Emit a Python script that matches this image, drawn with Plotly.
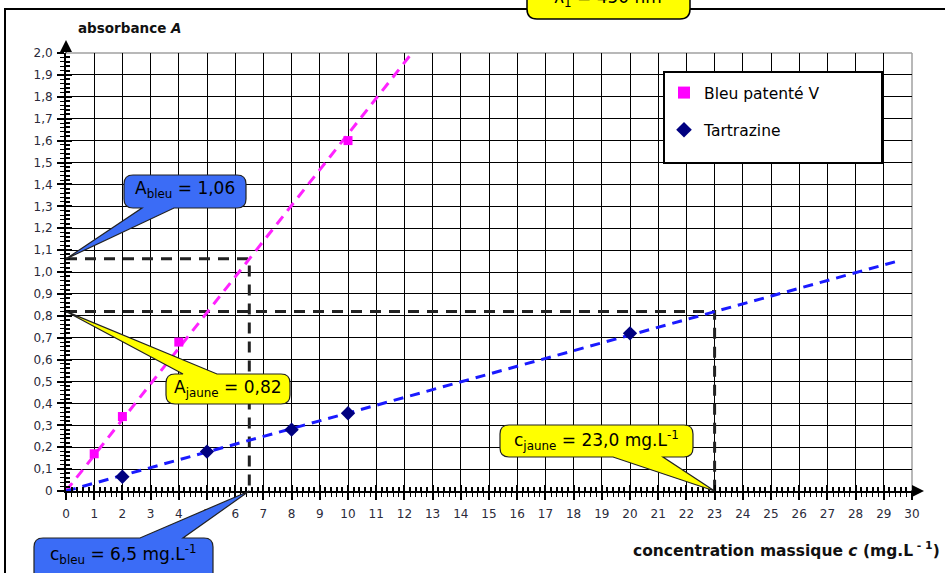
import plotly.graph_objects as go

# ---------------- data ----------------
bleu_c = [1, 2, 4, 10]
bleu_A = [0.17, 0.34, 0.68, 1.60]
jaune_c = [2, 5, 8, 10, 20]
jaune_A = [0.065, 0.18, 0.28, 0.355, 0.72]

bleu_slope = 0.163        # trend line of Bleu patenté V (A = k.c)
jaune_slope = 0.0356      # trend line of Tartrazine
jaune_line_cmax = 29.4    # extent of the tartrazine trend line

A_bleu, c_bleu = 1.06, 6.5
A_jaune, c_jaune = 0.82, 23.0

x_ticks = list(range(0, 31))
x_ticktext = [str(v) for v in x_ticks]
y_ticks = [round(i * 0.1, 1) for i in range(0, 21)]
y_ticktext = ["0"] + [f"{v:.1f}".replace(".", ",") for v in y_ticks[1:]]

# ---------------- layout geometry ----------------
W, H = 945, 573
L, R, T, B = 66, 33, 53, 82
PW, PH = W - L - R, H - T - B
XR, YR = (0, 30), (0, 2.0)

def px(x):  # pixel -> paper x
    return (x - L) / PW

def py(y):  # pixel -> paper y
    return (H - B - y) / PH

def dx(v):  # data -> paper x
    return (v - XR[0]) / (XR[1] - XR[0])

def dy(v):  # data -> paper y
    return (v - YR[0]) / (YR[1] - YR[0])

def callout(x0, y0, x1, y1, side, b0, b1, tip, r=9):
    """speech bubble path in paper coords; box in pixels, tip in paper."""
    P = lambda x, y: f"{px(x):.5f},{py(y):.5f}"
    tx, ty = tip
    tipS = f"{tx:.5f},{ty:.5f}"
    s = f"M{P(x0 + r, y0)}"
    if side == "top":
        s += f" L{P(b0, y0)} L{tipS} L{P(b1, y0)}"
    s += f" L{P(x1 - r, y0)} Q{P(x1, y0)} {P(x1, y0 + r)}"
    s += f" L{P(x1, y1 - r)} Q{P(x1, y1)} {P(x1 - r, y1)}"
    if side == "bottom":
        s += f" L{P(b1, y1)} L{tipS} L{P(b0, y1)}"
    s += f" L{P(x0 + r, y1)} Q{P(x0, y1)} {P(x0, y1 - r)}"
    s += f" L{P(x0, y0 + r)} Q{P(x0, y0)} {P(x0 + r, y0)} Z"
    return s

BLUE_FILL = "#3b6cf6"
YELLOW_FILL = "#ffff00"
FONT = "DejaVu Sans, Liberation Sans, Arial, sans-serif"

fig = go.Figure()

# black read-off dashed lines
for a, c in [(A_bleu, c_bleu), (A_jaune, c_jaune)]:
    fig.add_trace(go.Scatter(
        x=[0, c, c], y=[a, a, 0], mode="lines",
        line=dict(color="#222222", width=3, dash="11px,8px"),
        showlegend=False, hoverinfo="skip"))

# trend lines
fig.add_trace(go.Scatter(
    x=[0, YR[1] / bleu_slope], y=[0, YR[1]], mode="lines",
    line=dict(color="#ff22ff", width=3, dash="10px,7px"),
    showlegend=False, hoverinfo="skip"))
fig.add_trace(go.Scatter(
    x=[0, jaune_line_cmax], y=[0, jaune_slope * jaune_line_cmax], mode="lines",
    line=dict(color="#1a1aff", width=3, dash="10px,7px"),
    showlegend=False, hoverinfo="skip"))

# data points
fig.add_trace(go.Scatter(
    x=bleu_c, y=bleu_A, mode="markers", name="Bleu patenté V",
    marker=dict(symbol="square", size=9, color="#ff00ff"), legendgroup="a"))
fig.add_trace(go.Scatter(
    x=jaune_c, y=jaune_A, mode="markers", name="Tartrazine",
    marker=dict(symbol="diamond", size=11, color="#000080"), legendgroup="b"))

shapes = []
annotations = []

# outer frame
shapes.append(dict(type="rect", xref="paper", yref="paper",
                   x0=px(5), y0=py(H + 20), x1=px(W + 20), y1=py(9),
                   line=dict(color="black", width=2), fillcolor="rgba(0,0,0,0)",
                   layer="above"))
# gray top / right plot borders
shapes.append(dict(type="line", xref="paper", yref="paper", x0=0, x1=1, y0=1, y1=1,
                   line=dict(color="#a0a0a0", width=1.5), layer="below"))
shapes.append(dict(type="line", xref="paper", yref="paper", x0=1, x1=1, y0=0, y1=1,
                   line=dict(color="#a0a0a0", width=1.5), layer="below"))

# legend box (legend itself drawn transparent on top)
shapes.append(dict(type="rect", xref="paper", yref="paper",
                   x0=px(664), x1=px(882), y0=py(163), y1=py(72),
                   line=dict(color="black", width=2), fillcolor="white",
                   layer="above"))

# top yellow box (cut by the page edge)
shapes.append(dict(type="path", xref="paper", yref="paper",
                   path=callout(527, -20, 690, 19, None, 0, 0, (0, 0), r=10),
                   fillcolor=YELLOW_FILL, line=dict(color="black", width=1.5),
                   layer="above"))
annotations.append(dict(xref="paper", yref="paper", x=px(608), y=py(-2),
                        xanchor="center", yanchor="middle",
                        text="λ<sub>1</sub> = 450 nm", showarrow=False,
                        font=dict(family=FONT, size=17, color="black")))

# callouts
callouts = [
    # box px (x0,y0,x1,y1), side, tail base, tip(data), fill, text
    ((124, 175, 246, 208), "bottom", (142, 174), (0, A_bleu), BLUE_FILL,
     "A<sub>bleu</sub> = 1,06", 190),
    ((166, 374, 290, 404), "top", (183, 217), (0, A_jaune), YELLOW_FILL,
     "A<sub>jaune</sub> = 0,82", 388),
    ((34, 538, 213, 595), "top", (140, 183), (c_bleu, 0), BLUE_FILL,
     "c<sub>bleu</sub> = 6,5 mg.L<sup>-1</sup>", 554),
    ((500, 425, 693, 457), "bottom", (613, 663), (c_jaune, 0), YELLOW_FILL,
     "c<sub>jaune</sub> = 23,0 mg.L<sup>-1</sup>", 440),
]
for (x0, y0, x1, y1), side, (b0, b1), (tc, ta), fill, txt, ycen in callouts:
    shapes.append(dict(type="path", xref="paper", yref="paper",
                       path=callout(x0, y0, x1, y1, side, b0, b1, (dx(tc), dy(ta))),
                       fillcolor=fill, line=dict(color="#222222", width=1.2),
                       layer="above"))
    annotations.append(dict(xref="paper", yref="paper", x=px((x0 + x1) / 2),
                            y=py(ycen), xanchor="center", yanchor="middle",
                            text=txt, showarrow=False,
                            font=dict(family=FONT, size=17, color="black")))

# axis arrows
annotations.append(dict(xref="paper", yref="paper", x=0, y=py(40), ax=0, ay=14,
                        showarrow=True, arrowhead=2, arrowsize=1.2, arrowwidth=2,
                        arrowcolor="black", text=""))
annotations.append(dict(xref="paper", yref="paper", x=px(924), y=0, ax=-14, ay=0,
                        showarrow=True, arrowhead=2, arrowsize=1.2, arrowwidth=2,
                        arrowcolor="black", text=""))

# axis titles
annotations.append(dict(xref="paper", yref="paper", x=px(76), y=py(28),
                        xanchor="left", yanchor="middle", showarrow=False,
                        text="<b>absorbance <i>A</i></b>",
                        font=dict(family=FONT, size=13.5, color="#111111")))
annotations.append(dict(xref="paper", yref="paper", x=px(942), y=py(549),
                        xanchor="right", yanchor="middle", showarrow=False,
                        text="<b>concentration massique <i>c</i> (mg.L<sup> - 1</sup>)</b>",
                        font=dict(family=FONT, size=15.5, color="#111111")))

axis_common = dict(showgrid=True, gridcolor="black", gridwidth=1.3, zeroline=False,
                   showline=True, linecolor="black", linewidth=2,
                   ticks="outside", tickcolor="black", tickwidth=1.5, ticklen=7,
                   tickfont=dict(family=FONT, size=12, color="#2a2a3a"))

fig.update_layout(
    width=W, height=H, autosize=False,
    margin=dict(l=L, r=R, t=T, b=B),
    paper_bgcolor="white", plot_bgcolor="white",
    xaxis=dict(range=list(XR), tickvals=x_ticks, ticktext=x_ticktext,
               minor=dict(dtick=0.2, ticks="outside", ticklen=4, tickcolor="black",
                          tickwidth=1, showgrid=False),
               ticklabelstandoff=4, **axis_common),
    yaxis=dict(range=list(YR), tickvals=y_ticks, ticktext=y_ticktext,
               minor=dict(dtick=0.02, ticks="outside", ticklen=4, tickcolor="black",
                          tickwidth=1, showgrid=False),
               ticklabelstandoff=2, **axis_common),
    xaxis2=dict(overlaying="x", range=list(XR), showgrid=False, zeroline=False,
                showticklabels=False, ticks="inside", tickvals=x_ticks, ticklen=6,
                tickcolor="black", tickwidth=1.5,
                minor=dict(dtick=0.2, ticks="inside", ticklen=4, tickcolor="black")),
    yaxis2=dict(overlaying="y", range=list(YR), showgrid=False, zeroline=False,
                showticklabels=False, ticks="inside", tickvals=y_ticks, ticklen=6,
                tickcolor="black", tickwidth=1.5,
                minor=dict(dtick=0.02, ticks="inside", ticklen=4, tickcolor="black")),
    legend=dict(x=px(664), y=py(76), xanchor="left", yanchor="top",
                bgcolor="rgba(0,0,0,0)", borderwidth=0,
                font=dict(family=FONT, size=15.5, color="black"),
                traceorder="grouped", tracegroupgap=14,
                itemsizing="constant"),
    shapes=shapes, annotations=annotations, showlegend=True,
)

# invisible trace to activate the overlaid tick axes
fig.add_trace(go.Scatter(x=[None], y=[None], xaxis="x2", yaxis="y2",
                         showlegend=False, hoverinfo="skip"))

fig.write_html("out.html",
               config={"displayModeBar": False},
               post_script="document.body.style.margin='0px';"
                           "document.body.style.overflow='hidden';")
